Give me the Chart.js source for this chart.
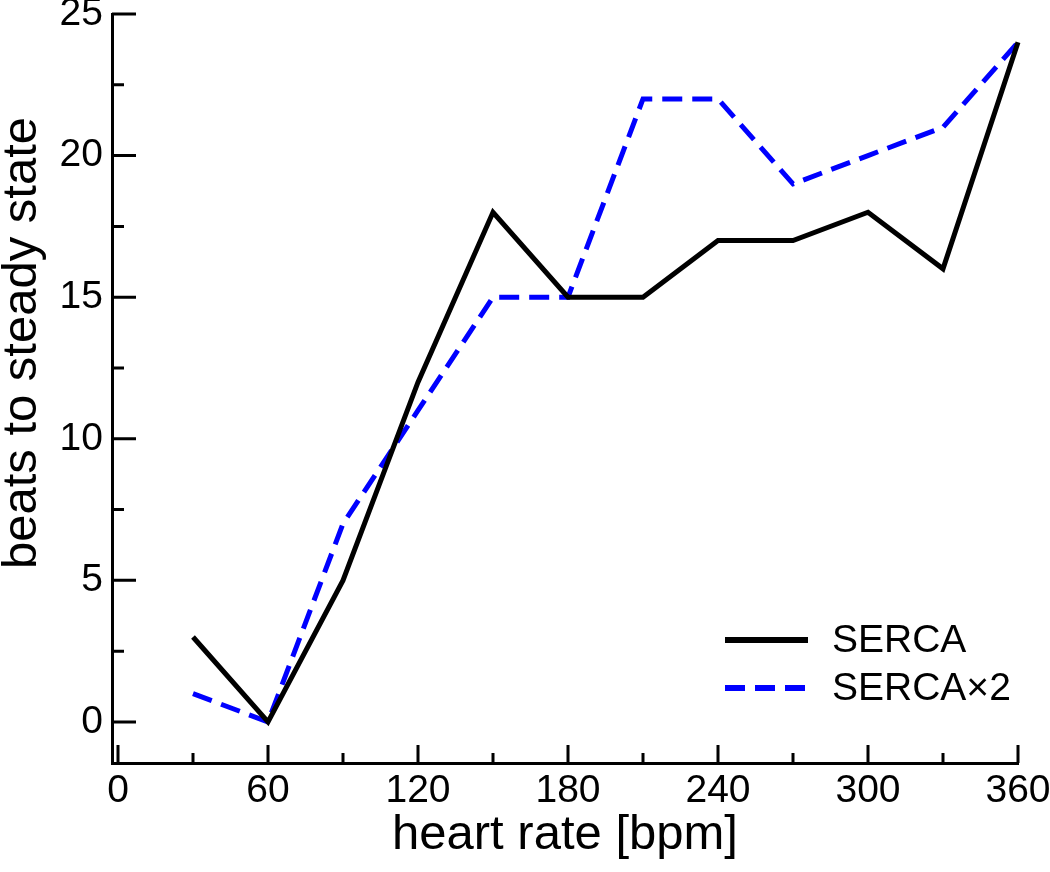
<!DOCTYPE html>
<html>
<head>
<meta charset="utf-8">
<script src="https://cdn.jsdelivr.net/npm/chart.js@4.4.1/dist/chart.umd.min.js"></script>
<style>
  html, body { margin: 0; padding: 0; background: #fff; }
  #wrap { width: 1050px; height: 872px; position: relative; }
</style>
</head>
<body>
<div id="wrap"><canvas id="beatsChart"></canvas></div>
<script>
var heartRate = [30, 60, 90, 120, 150, 180, 210, 240, 270, 300, 330, 360];
var serca     = [3, 0, 5, 12, 18, 15, 15, 17, 17, 18, 16, 24];
var serca2    = [1, 0, 7, 11, 15, 15, 22, 22, 19, 20, 21, 24];

var xTicks = [0, 60, 120, 180, 240, 300, 360];
var xMinor = [30, 90, 150, 210, 270, 330];
var yTicks = [0, 5, 10, 15, 20, 25];
var yMinor = [2.5, 7.5, 12.5, 17.5, 22.5];

var FONT = '"Liberation Sans", Arial, sans-serif';

function toPoints(xs, ys){
    return xs.map(function(x, i){ return {x: x, y: ys[i]}; });
}

// inward tick marks, drawn from the scales
var innerTicks = {
    id: 'innerTicks',
    afterDraw: function(chart){
        var ctx = chart.ctx, xs = chart.scales.x, ys = chart.scales.y;
        var area = chart.chartArea;
        ctx.save();
        ctx.strokeStyle = '#000';
        ctx.lineWidth = 3;
        ctx.lineCap = 'butt';
        ctx.beginPath();
        xTicks.forEach(function(v){
            var p = xs.getPixelForValue(v);
            ctx.moveTo(p, area.bottom); ctx.lineTo(p, area.bottom - 18);
        });
        xMinor.forEach(function(v){
            var p = xs.getPixelForValue(v);
            ctx.moveTo(p, area.bottom); ctx.lineTo(p, area.bottom - 10);
        });
        yTicks.forEach(function(v){
            var p = ys.getPixelForValue(v);
            ctx.moveTo(area.left, p); ctx.lineTo(area.left + 24, p);
        });
        yMinor.forEach(function(v){
            var p = ys.getPixelForValue(v);
            ctx.moveTo(area.left, p); ctx.lineTo(area.left + 12, p);
        });
        ctx.stroke();

        // y axis title
        ctx.fillStyle = '#000';
        ctx.font = '49px ' + FONT;
        ctx.textAlign = 'center';
        ctx.textBaseline = 'alphabetic';
        ctx.translate(36, 343);
        ctx.rotate(-Math.PI / 2);
        ctx.fillText('beats to steady state', 0, 0);
        ctx.restore();
    }
};

// legend inside the plot, lower right
var innerLegend = {
    id: 'innerLegend',
    afterDraw: function(chart){
        var ctx = chart.ctx;
        var rows = [640, 688];
        ctx.save();
        chart.data.datasets.forEach(function(ds, i){
            var y = rows[i];
            ctx.strokeStyle = ds.borderColor;
            ctx.lineWidth = 6;
            ctx.setLineDash(ds.borderDash || []);
            ctx.beginPath();
            ctx.moveTo(725, y); ctx.lineTo(808, y);
            ctx.stroke();
            ctx.setLineDash([]);
            ctx.fillStyle = '#000';
            ctx.font = '39px ' + FONT;
            ctx.textAlign = 'left';
            ctx.textBaseline = 'middle';
            ctx.fillText(ds.label, 832, y + 1);
        });
        ctx.restore();
    }
};

var chart = new Chart(document.getElementById('beatsChart').getContext('2d'), {
    type: 'line',
    data: {
        datasets: [
            {
                label: 'SERCA',
                data: toPoints(heartRate, serca),
                borderColor: '#000000',
                borderWidth: 5,
                pointRadius: 0,
                tension: 0,
                borderJoinStyle: 'miter',
                clip: 8
            },
            {
                label: 'SERCA\u00d72',
                data: toPoints(heartRate, serca2),
                borderColor: '#0000ff',
                borderWidth: 5,
                borderDash: [20, 10],
                pointRadius: 0,
                tension: 0,
                borderJoinStyle: 'miter',
                clip: 8
            }
        ]
    },
    plugins: [innerTicks, innerLegend],
    options: {
        responsive: true,
        maintainAspectRatio: false,
        animation: false,
        layout: { padding: { top: 14, right: 32, left: 0, bottom: 0 } },
        plugins: { legend: { display: false }, tooltip: { enabled: false } },
        scales: {
            x: {
                type: 'linear',
                min: -2.4,
                max: 360,
                grid: { display: false, drawTicks: false },
                border: { display: true, color: '#000', width: 3 },
                ticks: {
                    color: '#000',
                    font: { family: FONT, size: 39 },
                    padding: 5,
                    maxRotation: 0
                },
                title: {
                    display: true,
                    text: 'heart rate [bpm]',
                    color: '#000',
                    font: { family: FONT, size: 49 },
                    padding: { top: 0, bottom: 7 }
                },
                afterBuildTicks: function(scale){
                    scale.ticks = xTicks.map(function(v){ return {value: v}; });
                },
                afterFit: function(scale){
                    scale.height = 109;
                    scale.paddingLeft = 0;
                    scale.paddingRight = 0;
                }
            },
            y: {
                type: 'linear',
                min: -1.45,
                max: 25,
                grid: { display: false, drawTicks: false },
                border: { display: true, color: '#000', width: 3 },
                ticks: {
                    color: '#000',
                    font: { family: FONT, size: 39 },
                    padding: 9
                },
                afterBuildTicks: function(scale){
                    scale.ticks = yTicks.map(function(v){ return {value: v}; });
                },
                afterFit: function(scale){
                    scale.width = 112;
                    scale.paddingTop = 0;
                    scale.paddingBottom = 0;
                }
            }
        }
    }
});
</script>
</body>
</html>
